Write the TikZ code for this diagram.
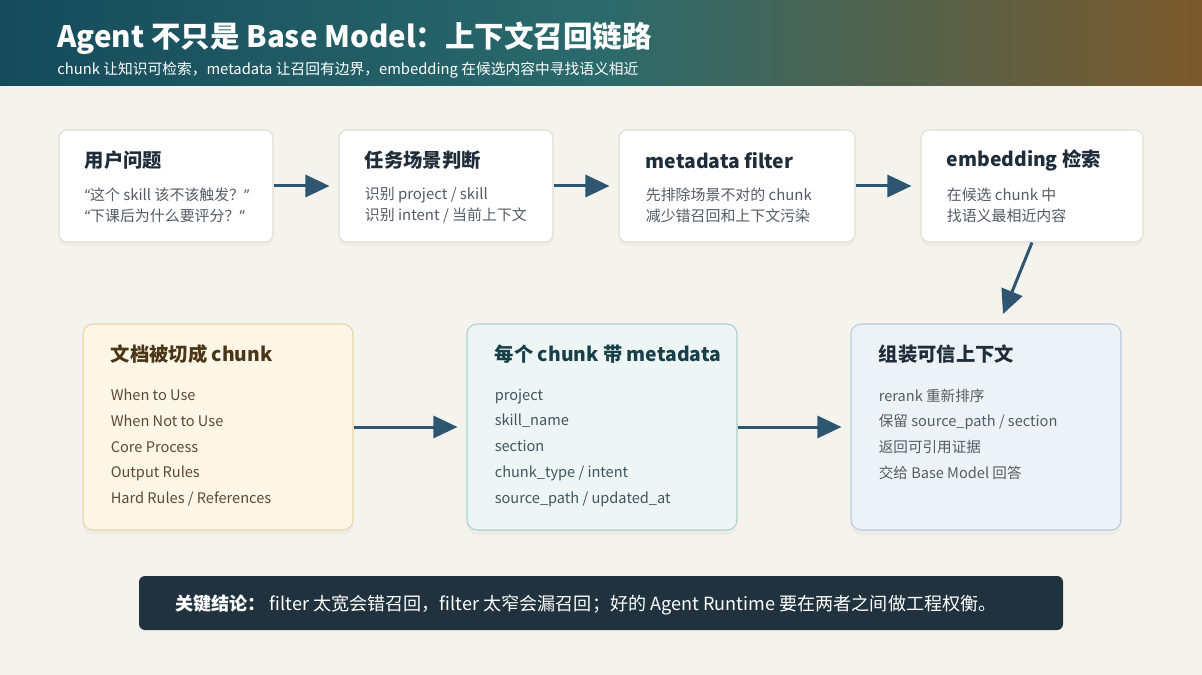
\documentclass[tikz,border=0pt]{standalone}
\usepackage{fontspec}
\setmainfont{Noto Sans CJK SC}
\newfontfamily\quotefont{Noto Sans}
\usetikzlibrary{arrows.meta, shadows, positioning, calc}
\definecolor{pagebg}{HTML}{F4F3EE}
\definecolor{headleft}{HTML}{154B5C}
\definecolor{headmid}{HTML}{2B6A6C}
\definecolor{headright}{HTML}{7C5A2C}
\definecolor{cardline}{HTML}{E2DDD2}
\definecolor{inkdark}{HTML}{1F2D3A}
\definecolor{inkgray}{HTML}{525C66}
\definecolor{flowblue}{HTML}{2F5670}
\definecolor{docfill}{HTML}{FDF6E6}
\definecolor{docline}{HTML}{E8D5A6}
\definecolor{docink}{HTML}{4A3516}
\definecolor{docgray}{HTML}{5B4A33}
\definecolor{metafill}{HTML}{EDF6F4}
\definecolor{metaline}{HTML}{A9D0CC}
\definecolor{metaink}{HTML}{163F4A}
\definecolor{metagray}{HTML}{3F5560}
\definecolor{ctxfill}{HTML}{EDF2F7}
\definecolor{ctxline}{HTML}{B9CADB}
\definecolor{footbg}{HTML}{1F323D}
\newlength\pxu
\setlength\pxu{0.02cm}
\newcommand\openq{{\quotefont “}}
\newcommand\closeq{{\quotefont ”}}

\tikzset{
  card/.style={draw=cardline, fill=white, line width=0.6pt, rounded corners=8\pxu,
    minimum height=112\pxu, inner sep=0pt,
    drop shadow={shadow xshift=0pt, shadow yshift=-0.08cm, opacity=0.06}},
  bigcard/.style={line width=0.6pt, rounded corners=10\pxu, minimum width=270\pxu,
    minimum height=206\pxu, inner sep=0pt,
    drop shadow={shadow xshift=0pt, shadow yshift=-0.1cm, opacity=0.06}},
  cardtitle/.style={anchor=west, inner sep=0pt, font=\fontsize{11}{13}\selectfont\bfseries, text=inkdark},
  cardbody/.style={anchor=west, inner sep=0pt, align=left, font=\fontsize{8.5}{11.9}\selectfont, text=inkgray},
  listbody/.style={anchor=north west, inner sep=0pt, align=left, font=\fontsize{8.3}{14.7}\selectfont},
  flow/.style={-{Triangle[length=0.48cm, width=0.44cm]}, line width=0.06cm, draw=flowblue, shorten >=0.18cm},
}

\begin{document}
\begin{tikzpicture}[x=0.02cm, y=-0.02cm]
  % fondo y cabecera
  \fill[pagebg] (0,0) rectangle (1202,675);
  \useasboundingbox (0,0) rectangle (1202,675);
  \shade[left color=headleft, right color=headright, middle color=headmid] (0,0) rectangle (1202,86);
  \node[anchor=west, inner sep=0pt, text=white, font=\fontsize{16.8}{20}\selectfont\bfseries] (title) at (57,38)
    {Agent 不只是 Base Model：上下文召回链路};
  \node[anchor=west, inner sep=0pt, text=white, font=\fontsize{8.4}{10}\selectfont] (subtitle) at (57,70)
    {chunk 让知识可检索，metadata 让召回有边界，embedding 在候选内容中寻找语义相近};

  % fila superior
  \node[card, minimum width=214\pxu] (ask) at (166,186) {};
  \node[card, minimum width=214\pxu] (task) at (446,186) {};
  \node[card, minimum width=236\pxu] (filter) at (737,186) {};
  \node[card, minimum width=222\pxu] (emb) at (1032,186) {};

  \node[cardtitle] (asktitle) at ($(ask.north west)+(26,31)$) {用户问题};
  \node[cardbody] (askbody) at ($(ask.north west)+(26,75.5)$) {\openq 这个 skill 该不该触发？\closeq\\\openq 下课后为什么要评分？\closeq};
  \node[cardtitle] (tasktitle) at ($(task.north west)+(26,31)$) {任务场景判断};
  \node[cardbody] (taskbody) at ($(task.north west)+(26,75.5)$) {识别 project / skill\\识别 intent / 当前上下文};
  \node[cardtitle] (filtertitle) at ($(filter.north west)+(27,31)$) {metadata filter};
  \node[cardbody] (filterbody) at ($(filter.north west)+(27,75.5)$) {先排除场景不对的 chunk\\减少错召回和上下文污染};
  \node[cardtitle] (embtitle) at ($(emb.north west)+(26,31)$) {embedding 检索};
  \node[cardbody] (embbody) at ($(emb.north west)+(26,75.5)$) {在候选 chunk 中\\找语义最相近内容};

  % fila inferior
  \node[bigcard, draw=docline, fill=docfill] (doc) at (218,427) {};
  \node[bigcard, draw=metaline, fill=metafill] (meta) at (602,427) {};
  \node[bigcard, draw=ctxline, fill=ctxfill] (ctx) at (986,427) {};

  \node[cardtitle, text=docink] (doctitle) at ($(doc.north west)+(28,31)$) {文档被切成 chunk};
  \node[listbody, text=docgray] (docbody) at ($(doc.north west)+(28,65)$)
    {When to Use\\When Not to Use\\Core Process\\Output Rules\\Hard Rules / References};
  \node[cardtitle, text=metaink] (metatitle) at ($(meta.north west)+(28,31)$) {每个 chunk 带 metadata};
  \node[listbody, text=metagray] (metabody) at ($(meta.north west)+(28,65)$)
    {project\\skill\_name\\section\\chunk\_type / intent\\source\_path / updated\_at};
  \node[cardtitle] (ctxtitle) at ($(ctx.north west)+(28,31)$) {组装可信上下文};
  \node[listbody, text=inkgray] (ctxbody) at ($(ctx.north west)+(28,65)$)
    {rerank 重新排序\\保留 source\_path / section\\返回可引用证据\\交给 Base Model 回答};

  % flechas
  \coordinate (ctxtip) at (1003,314);
  \draw[flow] (ask.east) -- (task.west);
  \draw[flow] (task.east) -- (filter.west);
  \draw[flow] (filter.east) -- (emb.west);
  \draw[flow, shorten >=0pt] (emb.south) -- (ctxtip);
  \draw[flow] (doc.east) -- (meta.west);
  \draw[flow] (meta.east) -- (ctx.west);

  % conclusion
  \node[fill=footbg, rounded corners=6\pxu, minimum width=924\pxu, minimum height=54\pxu, inner sep=0pt] (foot) at (601,603) {};
  \node[anchor=west, inner sep=0pt, text=white, font=\fontsize{10.3}{12}\selectfont] (foottext) at ($(foot.west)+(36,2)$)
    {\textbf{关键结论：}\ filter 太宽会错召回，filter 太窄会漏召回；好的 Agent Runtime 要在两者之间做工程权衡。};
\end{tikzpicture}
\end{document}
